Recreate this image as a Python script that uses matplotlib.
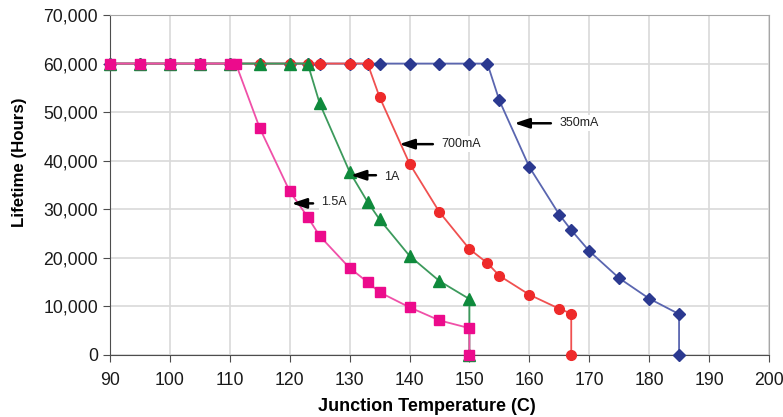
import matplotlib
matplotlib.use("Agg")
import matplotlib.pyplot as plt
from matplotlib.ticker import FuncFormatter

plt.rcParams['font.family'] = ['Liberation Sans', 'DejaVu Sans']

# Lifetime vs junction temperature, one series per drive current
t_350 = [90, 95, 100, 105, 110, 115, 120, 123, 125, 130, 133, 135, 140, 145, 150, 153,
         155, 160, 165, 167, 170, 175, 180, 185, 185]
h_350 = [60000, 60000, 60000, 60000, 60000, 60000, 60000, 60000, 60000, 60000, 60000, 60000,
         60000, 60000, 60000, 60000, 52400, 38700, 28900, 25700, 21400, 15800, 11600, 8400, 0]

t_700 = [90, 95, 100, 105, 110, 115, 120, 123, 125, 130, 133, 135, 140, 145, 150, 153,
         155, 160, 165, 167, 167]
h_700 = [60000, 60000, 60000, 60000, 60000, 60000, 60000, 60000, 60000, 60000, 60000, 53100,
         39400, 29400, 21800, 18900, 16300, 12400, 9500, 8500, 0]

t_1a = [90, 95, 100, 105, 110, 115, 120, 123, 125, 130, 133, 135, 140, 145, 150, 150]
h_1a = [60000, 60000, 60000, 60000, 60000, 60000, 60000, 60000, 51800, 37700, 31500, 27900,
        20400, 15200, 11500, 0]

t_15a = [90, 95, 100, 105, 110, 111, 115, 120, 123, 125, 130, 133, 135, 140, 145, 150, 150]
h_15a = [60000, 60000, 60000, 60000, 60000, 60000, 46700, 33700, 28400, 24500, 17900, 15000,
         12900, 9800, 7100, 5500, 0]

fig = plt.figure(figsize=(7.83, 4.17), dpi=100)
ax = fig.add_axes([0.1405, 0.149, 0.8415, 0.815])

ax.plot(t_350, h_350, color='#5a66b0', lw=1.3, marker='D', ms=6,
        mfc='#2b3990', mec='#2b3990', zorder=3, clip_on=False)
ax.plot(t_700, h_700, color='#f05050', lw=1.3, marker='o', ms=7,
        mfc='#ee2a2a', mec='#ee2a2a', zorder=4, clip_on=False)
ax.plot(t_1a, h_1a, color='#3c9a5c', lw=1.3, marker='^', ms=8,
        mfc='#0f8a3c', mec='#0f8a3c', zorder=5, clip_on=False)
ax.plot(t_15a, h_15a, color='#f050a8', lw=1.3, marker='s', ms=7,
        mfc='#ec0b8c', mec='#ec0b8c', zorder=6, clip_on=False)

ax.set_xlim(90, 200)
ax.set_ylim(0, 70000)
ax.set_xticks(range(90, 201, 10))
ax.set_yticks(range(0, 70001, 10000))
ax.yaxis.set_major_formatter(FuncFormatter(lambda v, p: f'{int(v):,}'))
ax.grid(True, color='#d9d9d9', lw=1.2)
ax.set_axisbelow(True)

for s in ['top', 'right']:
    ax.spines[s].set_color('#a6a6a6')
for s in ['left', 'bottom']:
    ax.spines[s].set_color('#4d4d4d')
ax.tick_params(direction='out', length=5, color='#4d4d4d', labelsize=12.7, labelcolor='#1a1a1a')
ax.tick_params(axis='x', pad=7)

ax.set_xlabel('Junction Temperature (C)', fontsize=13, fontweight='bold')
ax.set_ylabel('Lifetime (Hours)', fontsize=12.2, fontweight='bold')
ax.xaxis.set_label_coords(0.481, -0.126)
ax.yaxis.set_label_coords(-0.126, 0.566)

arrow = dict(arrowstyle='-|>,head_length=0.9,head_width=0.3', color='black', lw=1.8,
             shrinkA=0, shrinkB=0)
notes = [('350mA', 157.5, 47700, 165, 47700),
         ('700mA', 138.3, 43400, 145.3, 43400),
         ('1A', 130.2, 37000, 135.8, 36700),
         ('1.5A', 120.3, 31200, 125.3, 31400)]
for label, xt, yt, xl, yl in notes:
    ax.annotate('', xy=(xt, yt), xytext=(xl - 1.4, yt), arrowprops=arrow, zorder=7)
    ax.text(xl, yl, label, fontsize=9, va='center', ha='left', color='#222222',
            bbox=dict(facecolor='white', edgecolor='none', pad=1.5), zorder=7)

fig.savefig('out.png', dpi=100)
